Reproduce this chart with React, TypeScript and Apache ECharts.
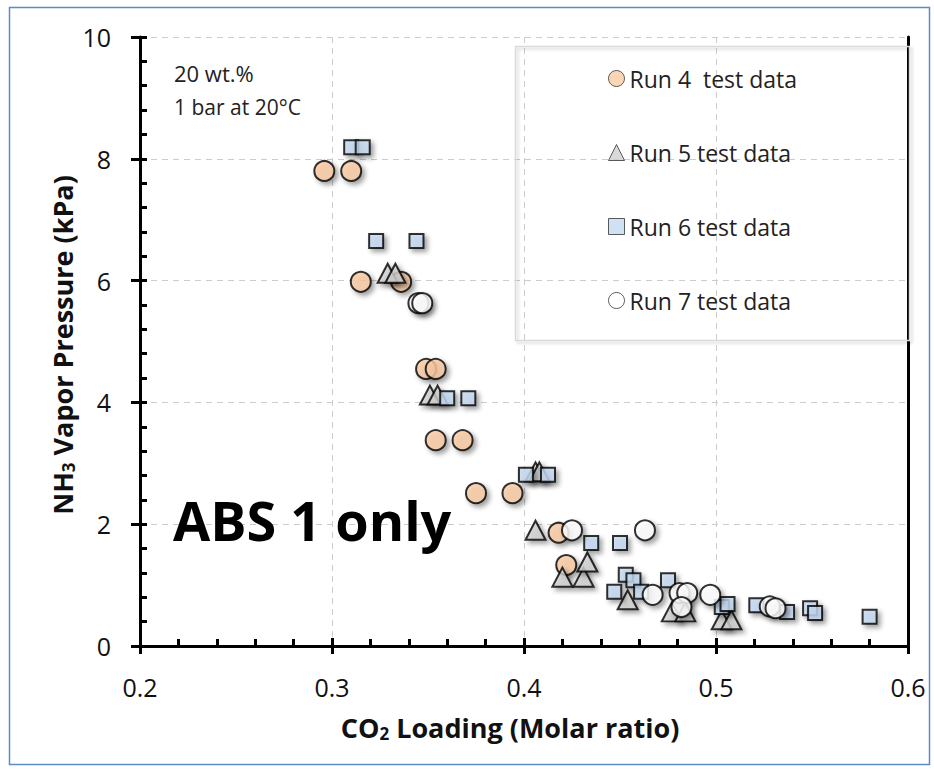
import React, { useEffect, useRef } from "react";
import * as echarts from "echarts";

const run4X = [0.296, 0.31, 0.315, 0.336, 0.349, 0.354, 0.354, 0.368, 0.375, 0.394, 0.418, 0.422];
const run4Y = [7.8, 7.8, 5.98, 5.98, 4.55, 4.55, 3.38, 3.38, 2.51, 2.51, 1.86, 1.33];

const run5X = [0.329, 0.333, 0.351, 0.355, 0.406, 0.408, 0.406, 0.42, 0.431, 0.433, 0.454, 0.477, 0.484, 0.503, 0.508];
const run5Y = [6.12, 6.12, 4.12, 4.12, 2.86, 2.86, 1.9, 1.13, 1.13, 1.38, 0.76, 0.56, 0.56, 0.43, 0.43];

const run6X = [0.31, 0.316, 0.323, 0.344, 0.36, 0.371, 0.401, 0.4125, 0.435, 0.45, 0.453, 0.457, 0.447, 0.461, 0.475, 0.503, 0.506, 0.521, 0.537, 0.549, 0.5516, 0.58];
const run6Y = [8.19, 8.19, 6.65, 6.65, 4.07, 4.07, 2.81, 2.81, 1.69, 1.69, 1.17, 1.08, 0.89, 0.89, 1.08, 0.64, 0.69, 0.67, 0.56, 0.62, 0.54, 0.48];

const run7X = [0.345, 0.347, 0.425, 0.463, 0.467, 0.481, 0.485, 0.482, 0.497, 0.528, 0.531];
const run7Y = [5.63, 5.63, 1.9, 1.9, 0.84, 0.87, 0.87, 0.64, 0.84, 0.65, 0.62];

const seriesNames = ["Run 4  test data", "Run 5 test data", "Run 6 test data", "Run 7 test data"];
const xTickLabels = ["0.2", "0.3", "0.4", "0.5", "0.6"];
const yTickLabels = ["0", "2", "4", "6", "8", "10"];

const FONT = "'Open Sans', Lato, sans-serif";

function pairs(xs: number[], ys: number[]) {
  return xs.map((x, i) => [x, ys[i]]);
}

export default function App() {
  const ref = useRef<HTMLDivElement>(null);
  useEffect(() => {
    if (!ref.current) return;
    const chart = echarts.init(ref.current, null, { renderer: "svg" });
    const shadow = {
      shadowBlur: 5,
      shadowOffsetX: 3,
      shadowOffsetY: 3,
      shadowColor: "rgba(0,0,0,0.45)",
    };
    const mk = (name: string, data: number[][], symbol: string, size: any, fill: string) => ({
      name,
      type: "scatter",
      data,
      symbol,
      symbolSize: size,
      itemStyle: { color: fill, borderColor: "#000", borderWidth: 2, ...shadow },
      emphasis: { disabled: true },
    });
    const axisCommonY = { type: "value", min: 0, max: 10, interval: 2 };
    const axisCommonX = { type: "value", min: 0.2, max: 0.6, interval: 0.1 };
    const richTitle = {
      b: { fontFamily: FONT, fontSize: 27, fontWeight: "bold", fill: "#111", lineHeight: 32 },
      s: { fontFamily: FONT, fontSize: 17, fontWeight: "bold", fill: "#111", lineHeight: 32, padding: [13, 0, 0, 0] },
    };
    chart.setOption({
      animation: false,
      backgroundColor: "#fff",
      grid: { left: 140, right: 26, top: 37, bottom: 123, show: false },
      legend: {
        orient: "vertical",
        left: 603,
        top: 62,
        itemWidth: 16,
        itemHeight: 16,
        itemGap: 51,
        data: seriesNames,
        textStyle: { fontFamily: FONT, fontSize: 23, color: "#222", lineHeight: 16 },
        itemStyle: { borderWidth: 1, borderColor: "#333", shadowBlur: 0, shadowOffsetX: 0, shadowOffsetY: 0, shadowColor: "transparent" },
        selectedMode: false,
      },
      xAxis: [
        {
          ...axisCommonX,
          position: "bottom",
          axisLine: { show: true, lineStyle: { color: "#000", width: 3 } },
          axisTick: { show: true, inside: false, length: 8, lineStyle: { color: "#000", width: 3 } },
          minorTick: { show: false },
          axisLabel: {
            fontFamily: FONT,
            fontSize: 25,
            color: "#111",
            margin: 28,
            formatter: (v: number) => xTickLabels[Math.round((v - 0.2) * 10)] ?? "",
          },
          splitLine: { show: true, lineStyle: { color: "#cccccc", type: [6, 5], width: 1 } },
        },
        {
          ...axisCommonX,
          position: "bottom",
          axisLine: { show: false },
          axisTick: { show: true, inside: true, length: 8, lineStyle: { color: "#000", width: 3 } },
          minorTick: { show: true, splitNumber: 5, length: 7, lineStyle: { color: "#000", width: 3 } },
          axisLabel: { show: false },
          splitLine: { show: false },
        },
        {
          ...axisCommonX,
          position: "top",
          axisLine: { show: true, lineStyle: { color: "#000", width: 3 } },
          axisTick: { show: false },
          axisLabel: { show: false },
          splitLine: { show: false },
        },
      ],
      yAxis: [
        {
          ...axisCommonY,
          position: "left",
          axisLine: { show: true, lineStyle: { color: "#000", width: 3 } },
          axisTick: { show: true, inside: false, length: 9, lineStyle: { color: "#000", width: 3 } },
          axisLabel: {
            fontFamily: FONT,
            fontSize: 25,
            color: "#111",
            margin: 29,
            formatter: (v: number) => yTickLabels[Math.round(v / 2)] ?? "",
          },
          splitLine: { show: true, lineStyle: { color: "#cccccc", type: [6, 5], width: 1 } },
        },
        {
          ...axisCommonY,
          position: "left",
          axisLine: { show: false },
          axisTick: { show: true, inside: true, length: 7, lineStyle: { color: "#000", width: 3 } },
          minorTick: { show: true, splitNumber: 5, length: 7, lineStyle: { color: "#000", width: 3 } },
          axisLabel: { show: false },
          splitLine: { show: false },
        },
        {
          ...axisCommonY,
          position: "right",
          axisLine: { show: true, lineStyle: { color: "#000", width: 3 } },
          axisTick: { show: false },
          axisLabel: { show: false },
          splitLine: { show: false },
        },
      ],
      graphic: [
        {
          type: "rect",
          left: 7,
          top: 5,
          shape: { width: 920, height: 757 },
          style: { fill: "none", stroke: "#5b8bc9", lineWidth: 1.5 },
          silent: true,
          z: -10,
        },
        {
          type: "rect",
          left: 513,
          top: 44,
          shape: { width: 394, height: 294 },
          style: {
            fill: "none",
            stroke: "#d9d9d9",
            lineWidth: 1.5,
            shadowBlur: 3,
            shadowOffsetX: 2,
            shadowOffsetY: 2,
            shadowColor: "rgba(0,0,0,0.2)",
          },
          silent: true,
          z: 1,
        },
        {
          type: "text",
          left: 174,
          top: 62,
          style: { text: "20 wt.%", fontFamily: FONT, fontSize: 22, fill: "#222" },
          z: 5,
        },
        {
          type: "text",
          left: 174,
          top: 96,
          style: { text: "1 bar at 20°C", fontFamily: FONT, fontSize: 21, fill: "#222" },
          z: 5,
        },
        {
          type: "text",
          left: 173,
          top: 493,
          style: { text: "ABS 1 only", fontFamily: FONT, fontSize: 54, fontWeight: "bold", fill: "#000" },
          z: 5,
        },
        {
          type: "text",
          x: 510,
          y: 727,
          style: {
            text: "{b|CO}{s|2}{b| Loading (Molar ratio)}",
            align: "center",
            verticalAlign: "middle",
            rich: richTitle,
          },
          z: 5,
        },
        {
          type: "text",
          x: 62,
          y: 345,
          rotation: Math.PI / 2,
          style: {
            text: "{b|NH}{s|3}{b| Vapor Pressure (kPa)}",
            align: "center",
            verticalAlign: "middle",
            rich: richTitle,
          },
          z: 5,
        },
      ],
      series: [
        mk(seriesNames[0], pairs(run4X, run4Y), "circle", 20, "#f9cba4"),
        mk(seriesNames[1], pairs(run5X, run5Y), "triangle", [20, 19], "#d0d0d0"),
        mk(seriesNames[2], pairs(run6X, run6Y), "rect", 14, "#c6d9f1"),
        mk(seriesNames[3], pairs(run7X, run7Y), "circle", 20, "#ffffff"),
      ],
    });
    return () => chart.dispose();
  }, []);
  return (
    <div
      ref={ref}
      style={{ position: "absolute", left: 0, top: 0, width: 934, height: 769 }}
    />
  );
}
